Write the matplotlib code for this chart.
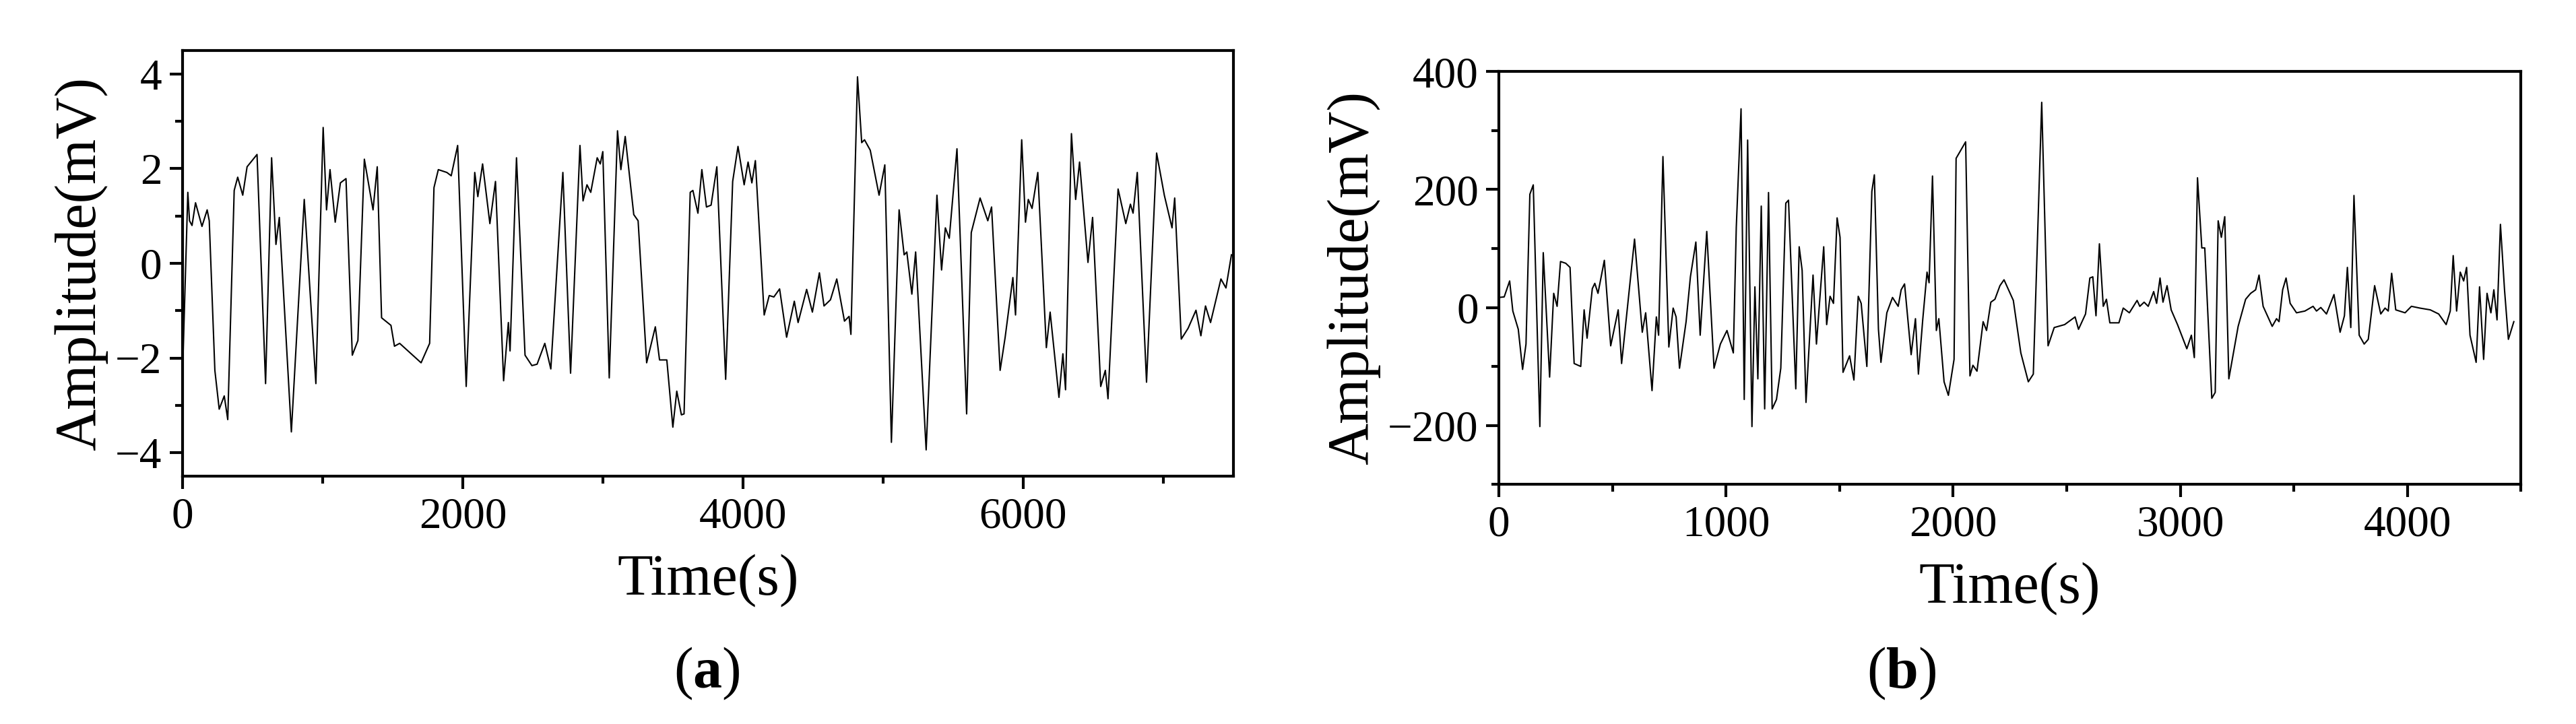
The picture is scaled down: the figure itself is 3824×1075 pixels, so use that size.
import matplotlib
matplotlib.use("Agg")
import matplotlib.pyplot as plt
from matplotlib.ticker import MultipleLocator

plt.rcParams['font.family'] = ['Liberation Serif', 'DejaVu Serif']
plt.rcParams['mathtext.fontset'] = 'custom'
plt.rcParams['mathtext.rm'] = 'Liberation Serif'
plt.rcParams['mathtext.bf'] = 'Liberation Serif:bold'

time_a = [0,37,49,67,92,138,175,190,230,261,297,322,368,393,429,460,531,592,635,666,690,776,868,951,1003,1027,1052,1089,1126,1166,1211,1251,1297,1359,1389,1420,1487,1512,1549,1702,1763,1794,1825,1886,1917,1963,2024,2085,2107,2141,2193,2233,2291,2325,2337,2383,2444,2493,2530,2585,2628,2714,2769,2836,2858,2886,2913,2959,2981,2999,3045,3104,3128,3159,3220,3251,3312,3374,3404,3456,3499,3527,3560,3579,3623,3642,3678,3706,3739,3772,3813,3876,3926,3964,4008,4036,4063,4088,4151,4187,4220,4261,4311,4366,4393,4454,4495,4545,4578,4624,4669,4724,4757,4770,4817,4847,4867,4908,4971,5012,5059,5114,5150,5169,5205,5232,5307,5384,5417,5444,5472,5527,5596,5629,5692,5747,5774,5835,5871,5926,5945,5989,6016,6036,6063,6104,6165,6192,6255,6283,6302,6344,6374,6402,6462,6495,6553,6586,6605,6677,6732,6765,6784,6814,6880,6952,7007,7062,7081,7128,7177,7233,7268,7301,7337,7411,7447,7486]
amp_a = [-2.26,1.5,0.9,0.8,1.28,0.78,1.13,0.9,-2.26,-3.08,-2.8,-3.3,1.54,1.82,1.44,2.04,2.3,-2.54,2.23,0.4,0.97,-3.56,1.35,-2.54,2.87,1.13,1.98,0.87,1.7,1.79,-1.94,-1.63,2.2,1.13,2.04,-1.15,-1.31,-1.75,-1.69,-2.1,-1.69,1.6,1.98,1.92,1.85,2.49,-2.6,1.92,1.41,2.1,0.84,1.73,-2.48,-1.25,-1.85,2.23,-1.94,-2.16,-2.13,-1.69,-2.23,1.92,-2.32,2.49,1.32,1.66,1.5,2.23,2.1,2.36,-2.42,2.8,1.98,2.68,1.03,0.9,-2.1,-1.34,-2.04,-2.04,-3.46,-2.7,-3.2,-3.18,1.5,1.54,1.06,1.98,1.19,1.23,2.04,-2.45,1.73,2.47,1.66,2.14,1.7,2.17,-1.09,-0.68,-0.71,-0.54,-1.56,-0.8,-1.25,-0.55,-1.03,-0.2,-0.9,-0.77,-0.33,-1.22,-1.12,-1.5,3.94,2.55,2.61,2.39,1.44,2.08,-3.78,1.13,0.18,0.24,-0.65,0.24,-3.94,1.44,-0.14,0.75,0.53,2.42,-3.18,0.65,1.38,0.9,1.19,-2.26,-1.56,-0.3,-1.09,2.61,0.87,1.35,1.16,1.92,-1.78,-1.03,-2.83,-1.91,-2.67,2.74,1.35,2.14,0.02,0.97,-2.6,-2.26,-2.86,1.57,0.84,1.25,1.06,1.92,-2.51,2.33,1.44,0.75,1.38,-1.6,-1.37,-0.99,-1.53,-0.9,-1.25,-0.33,-0.52,0.18]

time_b = [0,23,47,61,85,104,119,136,151,180,195,223,241,256,271,294,313,331,360,375,388,411,422,436,464,492,525,540,568,597,631,646,674,693,703,722,748,767,780,795,824,843,867,886,915,947,975,1004,1032,1045,1066,1080,1095,1114,1127,1140,1155,1170,1187,1203,1222,1241,1263,1275,1307,1322,1335,1352,1383,1398,1430,1443,1458,1473,1489,1502,1515,1544,1563,1582,1595,1620,1642,1653,1671,1682,1708,1733,1758,1771,1786,1815,1834,1847,1866,1885,1894,1909,1926,1937,1960,1979,2004,2013,2055,2074,2087,2105,2132,2147,2166,2184,2206,2224,2265,2298,2331,2353,2390,2418,2445,2491,2537,2552,2583,2602,2615,2629,2644,2661,2675,2690,2730,2749,2776,2810,2822,2841,2859,2883,2896,2911,2924,2942,2960,2988,3029,3049,3062,3076,3095,3108,3139,3154,3167,3181,3196,3214,3255,3288,3310,3332,3347,3365,3405,3424,3435,3451,3466,3484,3512,3549,3585,3600,3619,3644,3677,3704,3723,3736,3751,3765,3788,3810,3828,3856,3883,3902,3916,3931,3949,3990,4018,4055,4101,4138,4171,4189,4202,4217,4233,4248,4261,4276,4303,4318,4336,4351,4368,4381,4395,4410,4428,4445,4469]
amp_b = [17,18,45,-6,-37,-105,-62,192,208,-202,93,-118,24,2,78,75,68,-95,-100,-4,-52,32,41,24,80,-65,-4,-95,9,116,-42,-9,-141,-16,-47,256,-67,-1,-16,-103,-24,52,111,-47,129,-103,-62,-39,-77,136,337,-156,284,-202,35,-121,172,-172,195,-172,-156,-103,177,182,-138,103,63,-161,55,-62,103,-29,19,7,152,119,-110,-82,-123,19,7,-100,197,225,-37,-93,-9,17,2,30,40,-80,-19,-113,-21,60,42,223,-39,-19,-126,-149,-88,253,281,-116,-98,-108,-24,-39,9,14,37,47,12,-77,-126,-113,348,-65,-34,-29,-16,-37,-11,50,52,-14,108,2,14,-26,-26,-1,-9,12,2,9,2,27,7,50,9,37,-4,-29,-70,-47,-85,220,101,101,-154,-144,147,119,154,-121,-32,14,24,30,55,2,-32,-19,-24,30,50,7,-9,-6,2,-6,0,-11,22,-42,-14,68,-34,190,-47,-62,-54,37,-11,-1,-6,58,-4,-9,2,-1,-4,-11,-29,-6,88,-6,60,45,68,-47,-93,35,-88,24,-9,30,-21,141,30,-54,-24]

fig = plt.figure(figsize=(38.24, 10.75), dpi=100)
axa = fig.add_axes([0.0709, 0.342, 0.4079, 0.5885])
axb = fig.add_axes([0.5819, 0.331, 0.3967, 0.570])

def style(ax):
    for s in ax.spines.values():
        s.set_linewidth(3)
    ax.tick_params(which='major', direction='out', length=14, width=3, labelsize=47, pad=8)
    ax.tick_params(which='minor', direction='out', length=8, width=3)

axa.plot(time_a, amp_a, color='black', lw=1.5)
axa.set_xlim(0, 7500); axa.set_ylim(-4.5, 4.5)
axa.xaxis.set_major_locator(MultipleLocator(2000)); axa.xaxis.set_minor_locator(MultipleLocator(1000))
axa.yaxis.set_major_locator(MultipleLocator(2)); axa.yaxis.set_minor_locator(MultipleLocator(1))
style(axa)
axa.set_xlabel('Time(s)', fontsize=62, labelpad=18)
axa.set_ylabel('Amplitude(mV)', fontsize=62, labelpad=8)

axb.plot(time_b, amp_b, color='black', lw=1.5)
axb.set_xlim(0, 4500); axb.set_ylim(-300, 400)
axb.xaxis.set_major_locator(MultipleLocator(1000)); axb.xaxis.set_minor_locator(MultipleLocator(500))
axb.set_yticks([-200, 0, 200, 400]); axb.yaxis.set_minor_locator(MultipleLocator(100))
style(axb)
axb.set_xlabel('Time(s)', fontsize=62, labelpad=18)
axb.set_ylabel('Amplitude(mV)', fontsize=62, labelpad=8)

fig.text(1049/3824, 1-1000/1075, r'($\mathbf{a}$)', fontsize=62, ha='center', va='center')
fig.text(2823/3824, 1-1000/1075, r'($\mathbf{b}$)', fontsize=62, ha='center', va='center')

fig.savefig('out.png', dpi=100)
